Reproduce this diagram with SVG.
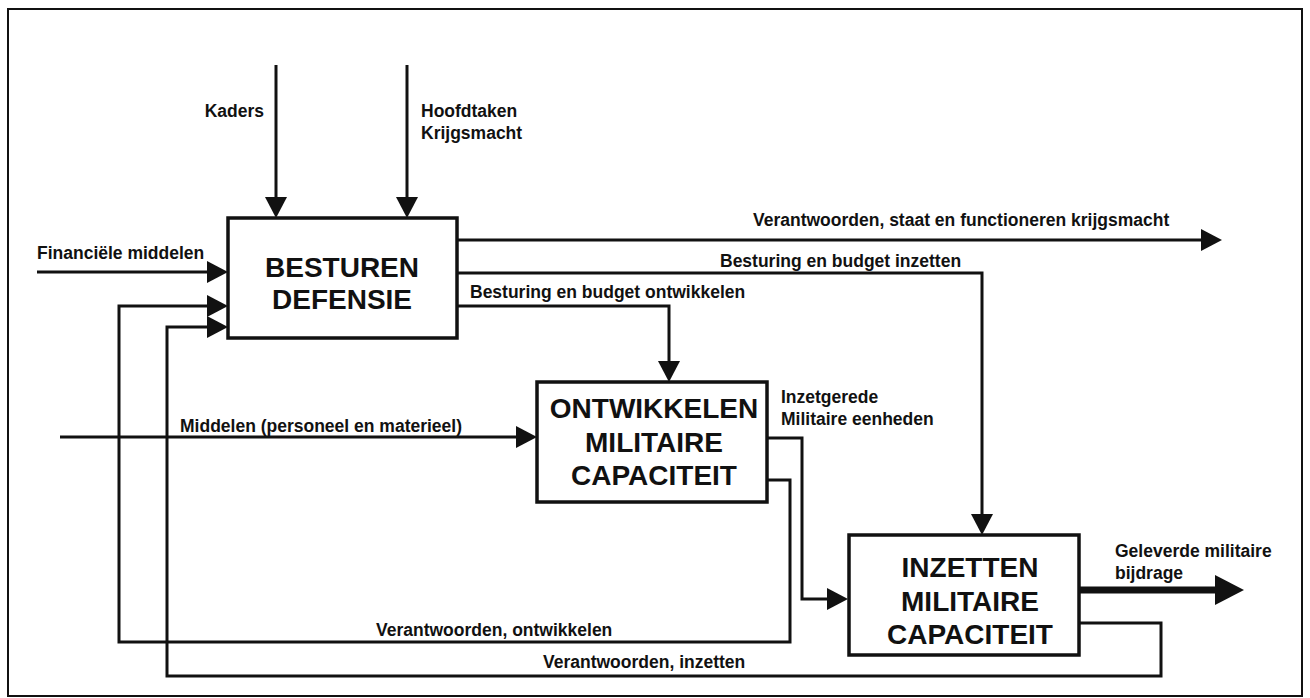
<svg xmlns="http://www.w3.org/2000/svg" width="1310" height="698" viewBox="0 0 1310 698">
<style>
.frame{fill:none;stroke:#111;stroke-width:2}
.box{fill:#fff;stroke:#111;stroke-width:3.5}
.c{fill:none;stroke:#111;stroke-width:3;stroke-linejoin:miter}
.thick{fill:none;stroke:#111;stroke-width:7}
.lbl{font-family:"Liberation Sans",Arial,sans-serif;font-weight:bold;font-size:17.5px;fill:#111}
.title{font-family:"Liberation Sans",Arial,sans-serif;font-weight:bold;font-size:28px;fill:#111;text-anchor:middle}
</style>
<defs>
<marker id="ah" viewBox="0 0 21 22" markerWidth="21" markerHeight="22" refX="13" refY="11" markerUnits="userSpaceOnUse" orient="auto">
<path d="M0,0 L21,11 L0,22 z" fill="#111"/>
</marker>
<marker id="ahBig" viewBox="0 0 29 30" markerWidth="29" markerHeight="30" refX="21" refY="15" markerUnits="userSpaceOnUse" orient="auto">
<path d="M0,0 L29,15 L0,30 z" fill="#111"/>
</marker>
</defs>
<rect width="1310" height="698" fill="#fff"/>
<rect class="frame" x="8" y="9" width="1294" height="687"/>

<g id="connectors">
<path class="c" d="M276,65 V210" marker-end="url(#ah)"/>
<path class="c" d="M407,65 V210" marker-end="url(#ah)"/>
<path class="c" d="M37,272 H220" marker-end="url(#ah)"/>
<path class="c" d="M767,480 H790 V642 H119 V306 H220" marker-end="url(#ah)"/>
<path class="c" d="M1079,623 H1161 V676 H167 V327 H220" marker-end="url(#ah)"/>
<path class="c" d="M457,240 H1214" marker-end="url(#ah)"/>
<path class="c" d="M457,273 H982 V527" marker-end="url(#ah)"/>
<path class="c" d="M457,306 H669 V374" marker-end="url(#ah)"/>
<path class="c" d="M60,437 H529" marker-end="url(#ah)"/>
<path class="c" d="M767,438 H802 V599 H840" marker-end="url(#ah)"/>
<path class="thick" d="M1079,590 H1236" marker-end="url(#ahBig)"/>
<text class="lbl" x="264" y="117" text-anchor="end">Kaders</text>
<text class="lbl" x="421" y="117">Hoofdtaken</text>
<text class="lbl" x="421" y="139">Krijgsmacht</text>
<text class="lbl" x="37" y="259">Financiële middelen</text>
<text class="lbl" x="753" y="226">Verantwoorden, staat en functioneren krijgsmacht</text>
<text class="lbl" x="720" y="267">Besturing en budget inzetten</text>
<text class="lbl" x="470" y="298">Besturing en budget ontwikkelen</text>
<text class="lbl" x="180" y="432">Middelen (personeel en materieel)</text>
<text class="lbl" x="781" y="403">Inzetgerede</text>
<text class="lbl" x="781" y="425">Militaire eenheden</text>
<text class="lbl" x="1115" y="557">Geleverde militaire</text>
<text class="lbl" x="1115" y="579">bijdrage</text>
<text class="lbl" x="376" y="636">Verantwoorden, ontwikkelen</text>
<text class="lbl" x="543" y="668">Verantwoorden, inzetten</text>
</g>

<g id="besturen">
<rect class="box" x="228" y="218" width="229" height="120"/>
<text class="title" x="342" y="277">BESTUREN</text>
<text class="title" x="342" y="309">DEFENSIE</text>
</g>

<g id="ontwikkelen">
<rect class="box" x="537" y="382" width="230" height="120"/>
<text class="title" x="654" y="418">ONTWIKKELEN</text>
<text class="title" x="654" y="452">MILITAIRE</text>
<text class="title" x="654" y="485">CAPACITEIT</text>
</g>

<g id="inzetten">
<rect class="box" x="849" y="535" width="230" height="120"/>
<text class="title" x="970" y="577">INZETTEN</text>
<text class="title" x="970" y="611">MILITAIRE</text>
<text class="title" x="970" y="644">CAPACITEIT</text>
</g>
</svg>
